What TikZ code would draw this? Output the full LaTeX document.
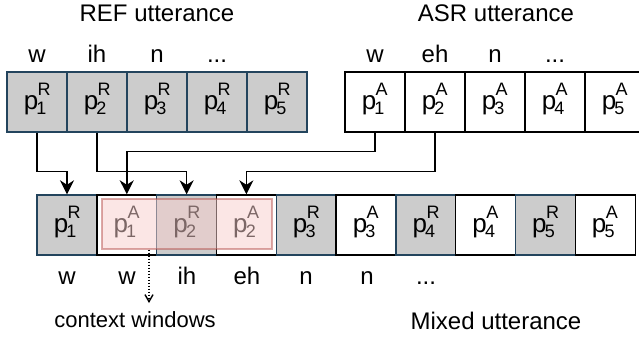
\documentclass[tikz,border=0pt]{standalone}
\usepackage{fontspec}
\setmainfont{Liberation Sans}
\usetikzlibrary{arrows.meta,positioning}
\definecolor{refgray}{HTML}{CCCCCC}
\definecolor{refline}{HTML}{23445D}
\definecolor{cwfill}{HTML}{F8CECC}
\definecolor{cwline}{HTML}{B85450}
\newcommand\subf{\fontsize{18}{18}\selectfont}
\newcommand\pp[2]{p\makebox[12pt][l]{\rlap{\hspace{-0.5pt}\raisebox{14pt}{\subf #1}}\hspace{-1.8pt}\raisebox{-5pt}{\subf #2}}}
\tikzset{
  cell/.style={draw, line width=1.4pt, minimum width=60pt, minimum height=60pt, inner sep=0pt,
    text height=20pt, text depth=5pt, font=\fontsize{26}{30}\selectfont},
  refcell/.style={cell, fill=refgray, draw=refline},
  asrcell/.style={cell, fill=white, draw=black},
  lbl/.style={inner sep=0pt, anchor=base, font=\fontsize{24}{28}\selectfont},
  arr/.style={draw=black, line width=1.5pt, -{Stealth[length=14pt,width=14pt,inset=4.5pt]}},
  cwbox/.style={draw=cwline, draw opacity=0.5, fill=cwfill, fill opacity=0.5, line width=1.4pt,
    minimum width=170pt, minimum height=50pt, inner sep=0pt},
  dotarr/.style={line width=1.4pt, dash pattern=on 1.5pt off 1.5pt, -{Straight Barb[length=7pt,width=8pt]}}
}
\begin{document}
\begin{tikzpicture}[x=1pt,y=-1pt]
\useasboundingbox (0,0) rectangle (639,341);
% titles
\node[lbl] (reft) at (157,21) {REF utterance};
\node[lbl] (asrt) at (496,21) {ASR utterance};
% REF row
\foreach \i in {1,...,5} {
  \node[refcell] (r\i) at ({37+60*(\i-1)},102) {\pp{R}{\i}};
  \node[asrcell] (a\i) at ({375+60*(\i-1)},102) {\pp{A}{\i}};
}
% top phoneme labels
\node[lbl] (rl1) at (37,62) {w};
\node[lbl] (rl2) at (97,62) {ih};
\node[lbl] (rl3) at (157,62) {n};
\node[lbl] (rl4) at (217,62) {...};
\node[lbl] (al1) at (375,62) {w};
\node[lbl] (al2) at (435,62) {eh};
\node[lbl] (al3) at (495,62) {n};
\node[lbl] (al4) at (555,62) {...};
% mixed row
\foreach \i in {1,...,5} {
  \node[refcell] (m\the\numexpr2*\i-1\relax) at ({67+119.6*(\i-1)},225) {\pp{R}{\i}};
  \node[asrcell] (m\the\numexpr2*\i\relax) at ({126.8+119.6*(\i-1)},225) {\pp{A}{\i}};
}
% bottom labels
\node[lbl] (ml1) at (67,284) {w};
\node[lbl] (ml2) at (127,284) {w};
\node[lbl] (ml3) at (187,284) {ih};
\node[lbl] (ml4) at (247,284) {eh};
\node[lbl] (ml5) at (306,284) {n};
\node[lbl] (ml6) at (367,284) {n};
\node[lbl] (ml7) at (426,284) {...};
% arrows
\draw[arr] (r1.south) -- ++(0,39) -| (m1.north);
\draw[arr] (r2.south) -- ++(0,39) -| (m3.north);
\draw[arr] (a1.south) -- ++(0,19) -| (m2.north);
\draw[arr] (a2.south) -- ++(0,39) -| (m4.north);
% context window
\node[cwbox] (cw) at (187,224) {};
\coordinate (cwend) at (149,303);
\draw[dotarr] (cw.south -| cwend) -- (cwend);
\node[lbl, font=\fontsize{22}{26}\selectfont] (cwt) at (135,327) {context windows};
\node[lbl] (mixt) at (496,329) {Mixed utterance};
\end{tikzpicture}
\end{document}
